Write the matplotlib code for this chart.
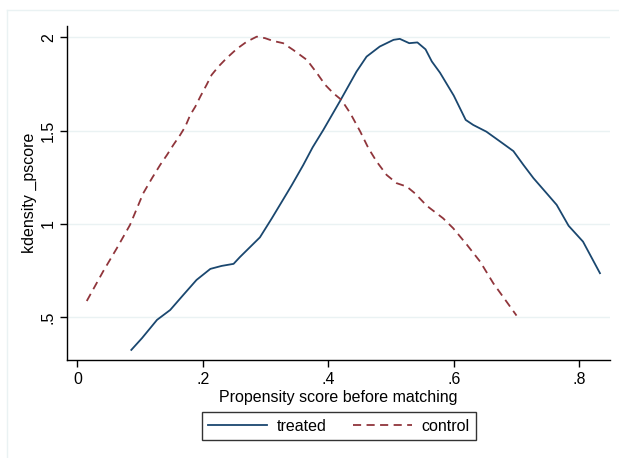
#kernel density of propensity score, treated vs control (before matching)
import numpy as np
import matplotlib.pyplot as plt
from matplotlib.lines import Line2D

plt.rcParams['font.family'] = ['Liberation Sans', 'DejaVu Sans']

# values
treated_x = [0.086, 0.103, 0.127, 0.148, 0.169, 0.190, 0.212, 0.230, 0.249, 0.259,
             0.275, 0.291, 0.310, 0.334, 0.342, 0.360, 0.375, 0.392, 0.419, 0.424,
             0.445, 0.461, 0.482, 0.504, 0.514, 0.529, 0.542, 0.555, 0.565, 0.578,
             0.600, 0.619, 0.631, 0.652, 0.674, 0.695, 0.711, 0.727, 0.748, 0.764,
             0.783, 0.806, 0.833]
treated_y = [0.325, 0.388, 0.486, 0.539, 0.620, 0.700, 0.759, 0.775, 0.786, 0.822,
             0.875, 0.928, 1.030, 1.164, 1.209, 1.315, 1.410, 1.503, 1.660, 1.690,
             1.816, 1.896, 1.950, 1.986, 1.991, 1.968, 1.972, 1.935, 1.870, 1.810,
             1.687, 1.557, 1.530, 1.494, 1.441, 1.390, 1.316, 1.245, 1.164, 1.102,
             0.990, 0.905, 0.736]

control_x = [0.015, 0.041, 0.063, 0.084, 0.105, 0.119, 0.132, 0.143, 0.153, 0.164,
             0.172, 0.180, 0.188, 0.196, 0.206, 0.214, 0.225, 0.238, 0.254, 0.270,
             0.286, 0.299, 0.312, 0.328, 0.344, 0.366, 0.382, 0.395, 0.408, 0.421,
             0.435, 0.451, 0.464, 0.477, 0.493, 0.509, 0.525, 0.538, 0.557, 0.583,
             0.599, 0.621, 0.642, 0.663, 0.684, 0.700]
control_y = [0.587, 0.745, 0.870, 0.995, 1.164, 1.245, 1.316, 1.370, 1.423, 1.477,
             1.521, 1.584, 1.628, 1.682, 1.745, 1.798, 1.843, 1.888, 1.937, 1.976,
             2.003, 1.995, 1.980, 1.968, 1.932, 1.878, 1.807, 1.745, 1.700, 1.664,
             1.593, 1.494, 1.405, 1.334, 1.262, 1.218, 1.200, 1.164, 1.097, 1.030,
             0.977, 0.888, 0.798, 0.682, 0.584, 0.509]

xticks = [0, 0.2, 0.4, 0.6, 0.8]
xticklabels = ['0', '.2', '.4', '.6', '.8']
yticks = [0.5, 1, 1.5, 2]
yticklabels = ['.5', '1', '1.5', '2']

navy = '#1a476f'
maroon = '#90353b'
gridcol = '#eaf2f3'
fs = 11.5

fig = plt.figure(figsize=(6.19, 4.58), dpi=100)
ax = fig.add_axes([67/619, 1-360/458, (610-67)/619, (360-26)/458])

for yv in yticks:
    ax.axhline(yv, color=gridcol, linewidth=1.0, zorder=0)

ax.plot(treated_x, treated_y, color=navy, linewidth=1.3, solid_joinstyle='round', label='treated')
ax.plot(control_x, control_y, color=maroon, linewidth=1.3, linestyle=(0, (4.5, 3)),
        dash_joinstyle='round', label='control')

ax.set_xlim(-0.0165, 0.849)
ax.set_ylim(0.271, 2.06)
ax.spines['top'].set_visible(False)
ax.spines['right'].set_visible(False)
ax.spines['left'].set_linewidth(1.0)
ax.spines['bottom'].set_linewidth(1.0)

ax.set_xticks(xticks)
ax.set_xticklabels(xticklabels, fontsize=fs)
ax.set_yticks(yticks)
ax.set_yticklabels(yticklabels, fontsize=fs, rotation=90, va='center')
ax.tick_params(axis='both', length=5, width=1.0, direction='out')
ax.tick_params(axis='y', pad=3)
ax.tick_params(axis='x', pad=3.5)

ax.set_xlabel('Propensity score before matching', fontsize=fs, labelpad=2)
ax.set_ylabel('kdensity _pscore', fontsize=fs, labelpad=3)

leg = fig.legend(loc='center', bbox_to_anchor=((202.7+475)/2/619, 1-(411.7+440.7)/2/458),
                 ncol=2, fontsize=fs, frameon=True, fancybox=False, edgecolor='black',
                 handlelength=3.7, columnspacing=1.6, handletextpad=0.6, borderpad=0.4)
leg.get_frame().set_linewidth(1.0)

# light outer frame of the graph region (left and top edges are visible)
fig.add_artist(Line2D([7/619, 7/619], [0, 1-10/458], color=gridcol, linewidth=1.0))
fig.add_artist(Line2D([7/619, 1], [1-10/458, 1-10/458], color=gridcol, linewidth=1.0))

plt.savefig('out.png', dpi=100)
